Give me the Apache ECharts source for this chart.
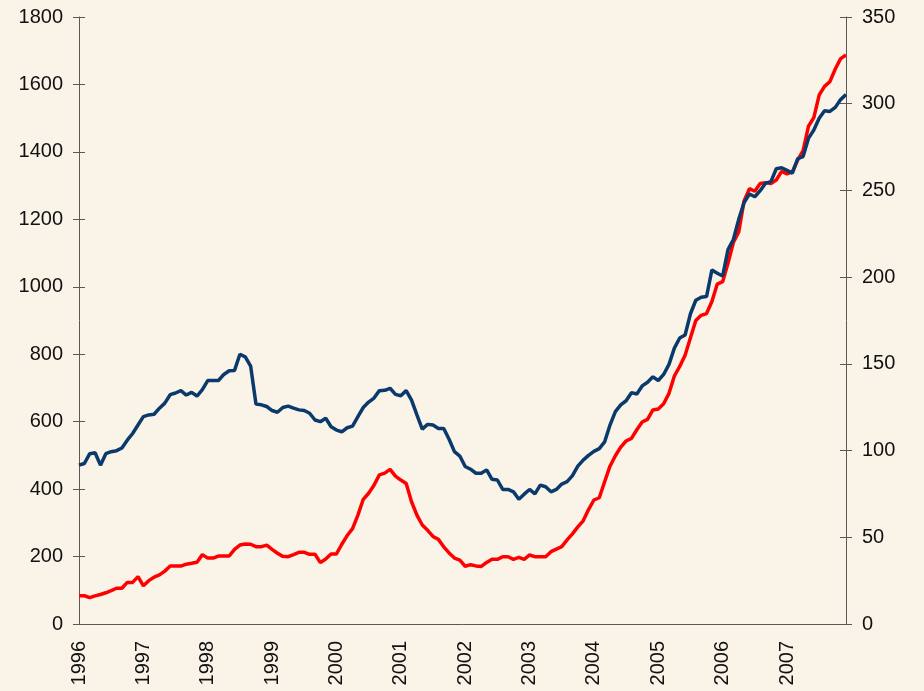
<!DOCTYPE html>
<html>
<head>
<meta charset="utf-8">
<title>chart</title>
<script src="https://cdn.jsdelivr.net/npm/echarts@6/dist/echarts.min.js"></script>
<style>
  html, body { margin: 0; padding: 0; background: #faf3e8; }
  #chart { width: 924px; height: 691px; }
</style>
</head>
<body>
<div id="chart"></div>
<script>
// years shown on the x axis, one category per month
const years = [1996, 1997, 1998, 1999, 2000, 2001, 2002, 2003, 2004, 2005, 2006, 2007];
const months = [];
years.forEach((y) => {
  for (let m = 1; m <= 12; m++) months.push(y + "-" + (m < 10 ? "0" + m : m));
});

// dark blue line, left axis
const blueSeries = [
  471, 476, 505, 508, 471, 505, 511, 514, 522, 545,
  565, 590, 615, 620, 622, 640, 655, 680, 685, 692,
  679, 687, 676, 695, 722, 722, 722, 740, 751, 752,
  800, 792, 765, 652, 650, 645, 633, 628, 642, 646,
  640, 635, 633, 625, 605, 600, 610, 585, 575, 570,
  582, 587, 615, 642, 658, 670, 692, 693, 699, 681,
  677, 692, 664, 620, 578, 592, 590, 580, 580, 548,
  511, 498, 467, 459, 447, 447, 457, 429, 427, 399,
  399, 392, 370, 385, 399, 386, 412, 407, 392, 399,
  415, 422, 440, 468, 486, 500, 512, 520, 540, 590,
  630, 650, 662, 686, 682, 706, 717, 733, 722, 740,
  770, 818, 848, 857, 920, 960, 969, 971, 1050, 1040,
  1032, 1110, 1140, 1200, 1250, 1275, 1267, 1285, 1307, 1312,
  1350, 1353, 1345, 1337, 1380, 1386, 1440, 1465, 1500, 1522,
  1520, 1532, 1555, 1570
];

// red line, right axis
const redSeries = [
  16.3, 16.3, 15.2, 16.2, 17, 18, 19.2, 20.6, 20.6, 24,
  24, 27.3, 22, 25, 27, 28.3, 30.5, 33.4, 33.4, 33.4,
  34.5, 35, 35.6, 40, 38, 38, 39.2, 39.2, 39.2, 43,
  45.5, 46.1, 46, 44.6, 44.6, 45.5, 43, 40.8, 39, 38.8,
  40, 41.3, 41.3, 40.2, 40.2, 35.4, 37.5, 40.4, 40.4, 46,
  51, 55, 62.8, 71.9, 75.4, 80, 86, 87, 89.2, 85.3,
  83, 81, 70.5, 62.8, 57.1, 54, 50.5, 48.8, 44.5, 41,
  38, 36.8, 33.3, 34.2, 33.5, 33.2, 35.5, 37.3, 37.3, 38.8,
  38.8, 37.3, 38.4, 37.3, 39.8, 38.8, 38.8, 38.8, 41.7, 43.2,
  44.6, 48.5, 52, 56, 59.5, 66, 71.5, 72.8, 82, 91,
  97, 102, 105.5, 107, 112, 116.5, 118, 123.4, 124, 127,
  133, 143, 148.5, 155, 165, 175, 178, 179, 186, 196,
  197.4, 208, 220, 226, 244, 251, 249.5, 254, 254.5, 254,
  256, 261, 259.5, 260.8, 267.5, 273, 287, 292, 305, 310,
  312.7, 320, 326, 328.1
];

// tick labels
const leftTicks = { min: 0, max: 1800, interval: 200 };
const rightTicks = { min: 0, max: 350, interval: 50 };

const axisColor = "#5c5853";
const font = "'Liberation Sans', Arial, sans-serif";

// value axis; inside = a second copy that only draws the inner half of the ticks
function valueAxis(pos, ticks, inside) {
  return {
    type: "value",
    position: pos,
    min: ticks.min,
    max: ticks.max,
    interval: ticks.interval,
    splitLine: { show: false },
    axisLine: { show: !inside, lineStyle: { color: axisColor, width: 1 } },
    axisTick: { show: true, inside: inside, length: 6, lineStyle: { color: axisColor } },
    axisLabel: {
      show: !inside,
      margin: 16,
      color: "#111",
      fontSize: 20,
      fontFamily: font,
      formatter: (v) => String(v), // no thousands separator
    },
  };
}

const myChart = echarts.init(document.getElementById("chart"));
const option = {
  backgroundColor: "#faf3e8",
  animation: false,
  grid: { left: 79, right: 78, top: 17, bottom: 67 },
  xAxis: {
    type: "category",
    data: months,
    boundaryGap: false,
    axisLine: { show: true, lineStyle: { color: axisColor, width: 1 } },
    axisTick: { show: false },
    splitLine: { show: false },
    axisLabel: {
      interval: (i) => i % 12 === 0,
      formatter: (v) => v.slice(0, 4),
      rotate: 90,
      margin: 17,
      color: "#111",
      fontSize: 20,
      fontFamily: font,
    },
  },
  yAxis: [
    valueAxis("left", leftTicks, false),
    valueAxis("right", rightTicks, false),
    valueAxis("left", leftTicks, true),
    valueAxis("right", rightTicks, true),
  ],
  series: [
    {
      type: "line",
      data: redSeries,
      yAxisIndex: 1,
      symbol: "none",
      lineStyle: { color: "#ff0000", width: 3.5 },
    },
    {
      type: "line",
      data: blueSeries,
      yAxisIndex: 0,
      symbol: "none",
      lineStyle: { color: "#0a3a6b", width: 3.5 },
    },
  ],
};
myChart.setOption(option);
</script>
</body>
</html>
